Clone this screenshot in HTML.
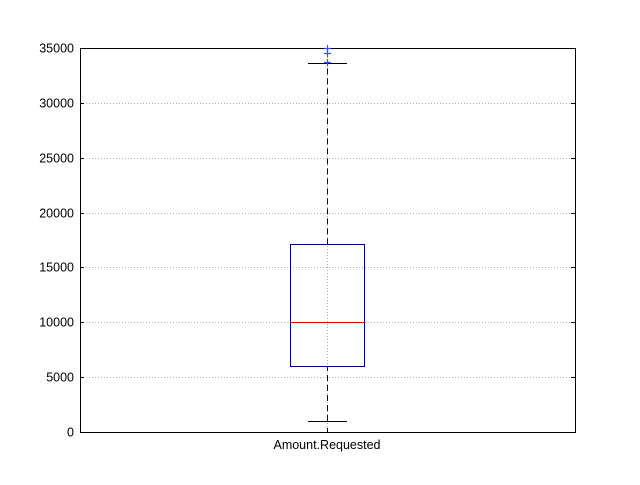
<!DOCTYPE html>
<html><head><meta charset="utf-8"><style>
body{margin:0;background:#fff;}
text{font-family:"Liberation Sans",sans-serif;font-size:12.5px;fill:#000;}
</style></head><body>
<svg id="c" width="640" height="480">
<rect x="0" y="0" width="640" height="480" fill="#fff"/>
<g id="grid"></g><g id="marks"></g><g id="ticks"></g>
<rect x="80.5" y="48.5" width="495" height="384" fill="none" stroke="#000"/>
<g id="out"></g>
<text x="327" y="449" text-anchor="middle">Amount.Requested</text>
</svg>
<script>
const yTicks=[0,5000,10000,15000,20000,25000,30000,35000];
const boxStats=[1000,6000,10000,17100,33600];
const outliers=[33700,34500,35000];
const y=v=>432-v/35000*384;
const cx=327;
const NS="http://www.w3.org/2000/svg";
function mk(p,t,a){const e=document.createElementNS(NS,t);for(const k in a)e.setAttribute(k,a[k]);p.appendChild(e);return e;}
const g=document.getElementById('grid'),m=document.getElementById('marks'),tk=document.getElementById('ticks'),og=document.getElementById('out');
yTicks.forEach(v=>{const yy=Math.round(y(v))+0.5;
 if(v>0&&v<35000){const l=mk(g,'line',{x1:80,x2:575,y1:yy,y2:yy,stroke:'#999','stroke-dasharray':'1,2','stroke-width':0.8});
 
 }
 mk(tk,'line',{x1:80,x2:84,y1:yy,y2:yy,stroke:'#000'});mk(tk,'line',{x1:571,x2:575,y1:yy,y2:yy,stroke:'#000'});
 const t=mk(tk,'text',{x:74,y:yy+4,'text-anchor':'end'});t.textContent=v;
 
 });
const vg=mk(g,'line',{x1:cx+.5,x2:cx+.5,y1:48,y2:432,stroke:'#999','stroke-dasharray':'1,2','stroke-width':0.8});


mk(tk,'line',{x1:cx+.5,x2:cx+.5,y1:432,y2:428,stroke:'#000'});
const [lo,q1,med,q3,hi]=boxStats;
const w1=mk(m,'line',{x1:cx+.5,x2:cx+.5,y1:y(lo),y2:y(q1),stroke:'#00007f','stroke-dasharray':'6,4'});


const w2=mk(m,'line',{x1:cx+.5,x2:cx+.5,y1:y(q3),y2:y(hi),stroke:'#00007f','stroke-dasharray':'6,4'});


[lo,hi].forEach(v=>{const c=mk(m,'line',{x1:308,x2:347,y1:Math.round(y(v))+.5,y2:Math.round(y(v))+.5,stroke:'#000'});
 
 });
const b=mk(m,'rect',{x:290.5,y:Math.round(y(q3))+.5,width:74,height:Math.round(y(q1))-Math.round(y(q3)),fill:'none',stroke:'#00007f'});


const md=mk(m,'line',{x1:290,x2:365,y1:Math.round(y(med))+.5,y2:Math.round(y(med))+.5,stroke:'#e00000'});


outliers.forEach(v=>{const yy=Math.round(y(v))+.5;const p=mk(og,'path',{d:`M${cx-3} ${yy}h7M${cx+.5} ${yy-3.5}v7`,stroke:'#3050ff','stroke-width':1.2});
 
 });
</script>
</body></html>
